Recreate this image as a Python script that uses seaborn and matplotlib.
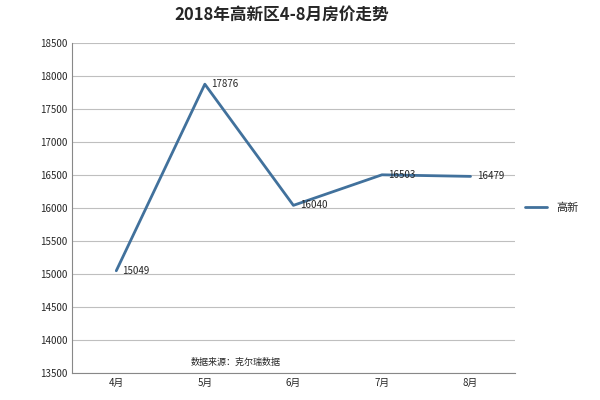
import matplotlib
matplotlib.use("Agg")
import matplotlib.pyplot as plt
import seaborn as sns
import pandas as pd

months = ["4月", "5月", "6月", "7月", "8月"]
prices = [15049, 17876, 16040, 16503, 16479]
series_name = "高新"

sns.set_style("white")
plt.rcParams['font.family'] = ['Noto Sans CJK SC', 'DejaVu Sans']

df = pd.DataFrame({"month": months, "price": prices, "series": series_name})
fig = plt.figure(figsize=(6, 4), dpi=100)
ax = fig.add_axes([0.12, 0.0675, 0.738, 0.825])
sns.lineplot(data=df, x="month", y="price", hue="series", palette=["#41719c"],
             linewidth=2, sort=False, ax=ax)
ax.set_xlim(-0.5, 4.5)
ax.set_ylim(13500, 18500)
ax.set_yticks(range(13500, 18501, 500))
ax.yaxis.grid(True, color="#bfbfbf", linewidth=0.8)
ax.set_axisbelow(True)
for s in ["top", "right"]:
    ax.spines[s].set_visible(False)
for s in ["left", "bottom"]:
    ax.spines[s].set_color("#888888")
ax.tick_params(labelsize=7, length=0)
ax.set_xlabel("")
ax.set_ylabel("")
for i, v in enumerate(prices):
    ax.text(i + 0.07, v, str(v), fontsize=7, va="center", ha="left")
ax.text(1.35, 13620, "数据来源：克尔瑞数据", fontsize=6.5, ha="center")
ax.legend(loc="center left", bbox_to_anchor=(1.0, 0.5), frameon=False, fontsize=8,
          handlelength=2)
fig.suptitle("2018年高新区4-8月房价走势", fontsize=12, fontweight="bold", x=0.47, y=0.985)
fig.savefig("out.png", dpi=100)
